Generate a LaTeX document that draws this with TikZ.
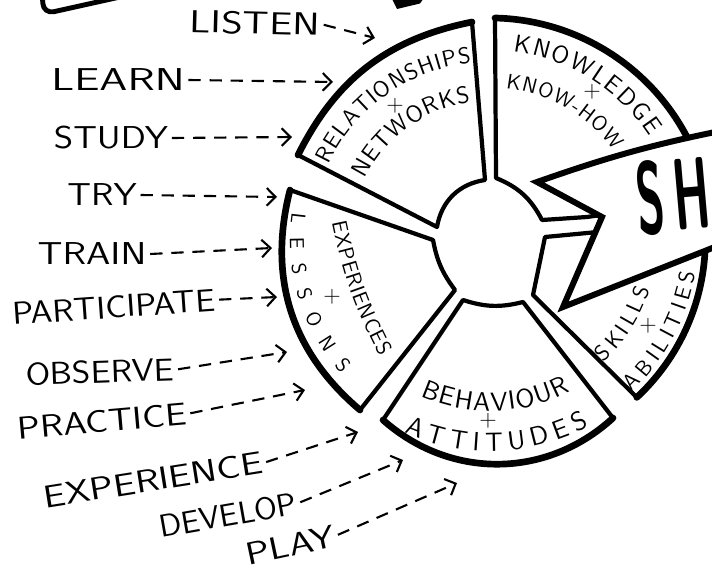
\documentclass[tikz,border=0pt]{standalone}
\usepackage{fontspec}
\usetikzlibrary{arrows.meta,decorations.text}

\tikzset{
  word/.style={font=\sffamily\fontsize{18}{18}\selectfont, inner sep=2pt},
  dasharrow/.style={line width=1.2pt, dash pattern=on 7pt off 5pt,
    -{Straight Barb[length=5pt,width=10pt,line width=1.2pt]}},
  sector/.style={line width=2.4pt, line join=round},
  rim/.style={line width=3.8pt, line cap=round},
  banner/.style={line width=3.4pt, fill=white},
  plussign/.style={font=\sffamily\fontsize{13}{13}\selectfont, inner sep=0pt},
  arctext/.style 2 args={decorate, decoration={text along path, text align=fit to path,
    text={|\sffamily\fontsize{#1}{#1}\selectfont|#2}}},
}

\begin{document}
\begin{tikzpicture}
	\useasboundingbox (0,0) rectangle (14.24,11.4);
	\clip (0,0) rectangle (14.24,11.4);

	% scraps of the drawing above
	\draw[line width=2.8pt, rounded corners=6pt] (0.84,11.6) -- (0.87,11.12) -- (2.4,11.46);
	\fill (7.80,11.5) -- (7.94,11.22) -- (8.40,11.33) -- (8.52,11.5) -- cycle;

	\coordinate (hub) at (9.8,6.6);

	% relationships
	\coordinate (r1) at (9.70,7.80);
	\coordinate (r2) at (9.44,10.96);
	\coordinate (r3) at (5.96,8.30);
	\coordinate (r4) at (8.74,6.86);
	\draw[sector] (r4) to[bend left=36] (r1) -- (r2) to[bend right=26] (r3) -- cycle;
	\draw[rim] (r2) to[bend right=26] (r3);

	% knowledge
	\coordinate (k1) at (9.92,7.84);
	\coordinate (k2) at (9.90,11.04);
	\coordinate (k5) at (10.84,7.00);
	\draw[sector] (k5) to[bend right=20] (k1) -- (k2) arc[start angle=88.7, end angle=22, radius=4.45] -- (12.7,7.2) -- (11.74,7.06) -- cycle;
	\draw[rim] (k2) arc[start angle=88.7, end angle=22, radius=4.45];

	% skills
	\coordinate (s1) at (10.90,6.66);
	\coordinate (s3) at (10.66,5.50);
	\draw[sector] (s3) -- (s1) -- (12.8,6.84) -- (14.09,6.98) arc[start angle=5, end angle=-47, radius=4.31] -- cycle;
	\draw[rim] (14.09,6.98) arc[start angle=5, end angle=-47, radius=4.31];

	% behaviour
	\coordinate (b1) at (9.26,5.40);
	\coordinate (b2) at (10.46,5.36);
	\coordinate (b3) at (12.26,3.04);
	\coordinate (b4) at (7.66,3.00);
	\draw[sector] (b1) to[bend right=16] (b2) -- (b3) to[bend left=42] (b4) -- cycle;
	\draw[rim] (b3) to[bend left=42] (b4);

	% experiences
	\coordinate (e1) at (5.80,7.60);
	\coordinate (e2) at (8.66,6.60);
	\coordinate (e3) at (9.10,5.60);
	\coordinate (e4) at (7.20,3.20);
	\draw[sector] (e4) to[bend left=32] (e1) -- (e2) to[bend right=13] (e3) -- cycle;
	\draw[rim] (e4) to[bend left=32] (e1);

	% banner
	\coordinate (tipT) at (10.74,7.76);
	\coordinate (notch) at (12.04,7.06);
	\coordinate (tipB) at (11.26,5.26);
	\draw[banner] (14.6,8.82) to[bend right=4] (tipT) -- (notch) -- (tipB) -- (14.6,6.58) -- cycle;
	\node[font=\sffamily\bfseries\fontsize{58}{58}\selectfont, rotate=5, anchor=west, inner sep=0pt] (sh) at (12.72,7.42) {\scalebox{0.45}[1]{S\kern0.2em H}};

	% sector texts
	\begin{scope}[shift={(hub)}]
		\path[arctext={13}{RELATIONSHIPS}] (155:3.56) arc[start angle=155, end angle=96, radius=3.56];
		\path[arctext={13.5}{NETWORKS}] (154:2.78) arc[start angle=154, end angle=98, radius=2.78];
		\path[arctext={14}{KNOWLEDGE}] (83:3.8) arc[start angle=83, end angle=33, radius=3.8];
		\path[arctext={12}{KNOW-HOW}] (84:3.05) arc[start angle=84, end angle=36, radius=3.05];
		\path[arctext={11.5}{LESSONS}] (172:4.0) arc[start angle=172, end angle=222, radius=4.0];
		\path[arctext={15}{BEHAVIOUR}] (-114:3.42) arc[start angle=-114, end angle=-62, radius=3.42];
		\path[arctext={15}{ATTITUDES}] (-114:4.22) arc[start angle=-114, end angle=-62, radius=4.22];
		\path[arctext={12.5}{SKILLS}] (-47:3.34) arc[start angle=-47, end angle=-17, radius=3.34];
		\path[arctext={12.5}{ABILITIES}] (-47:4.15) arc[start angle=-47, end angle=-9, radius=4.15];
	\end{scope}
	\path[arctext={12}{EXPERIENCES}] (6.64,6.95) to[bend right=8] (7.60,4.26);
	\node[plussign] (relplus) at (7.90,9.28) {+};
	\node[plussign] (knoplus) at (11.84,9.56) {+};
	\node[plussign] (expplus) at (6.64,5.46) {+};
	\node[plussign] (behplus) at (9.76,2.98) {+};
	\node[plussign] (skiplus) at (12.96,4.88) {+};

	% words on the left
	\node[word, rotate=-1.5] (listen) at (5.10,10.94) {\scalebox{1.3}[1]{LISTEN}};
	\node[word] (learn) at (2.36,9.80) {\scalebox{1.42}[1]{LEARN}};
	\node[word] (study) at (2.22,8.64) {\scalebox{1.17}[1]{STUDY}};
	\node[word] (try) at (2.04,7.50) {\scalebox{1.17}[1]{TRY}};
	\node[word] (train) at (1.84,6.32) {\scalebox{1.23}[1]{TRAIN}};
	\node[word, rotate=4] (participate) at (2.28,5.26) {\scalebox{1.11}[1]{PARTICIPATE}};
	\node[word, rotate=2] (observe) at (2.00,3.96) {\scalebox{1.12}[1]{OBSERVE}};
	\node[word, rotate=5] (practice) at (2.04,2.98) {\scalebox{1.2}[1]{PRACTICE}};
	\node[word, rotate=9] (experience) at (3.06,1.80) {\scalebox{1.25}[1]{EXPERIENCE}};
	\node[word, rotate=10] (develop) at (4.56,1.10) {\scalebox{1.04}[1]{DEVELOP}};
	\node[word, rotate=12] (play) at (5.80,0.50) {\scalebox{1.25}[1]{PLAY}};

	\coordinate (tolisten) at (7.50,10.64);
	\coordinate (tolearn) at (6.66,9.76);
	\coordinate (tostudy) at (5.84,8.66);
	\coordinate (totry) at (5.54,7.46);
	\coordinate (totrain) at (5.44,6.44);
	\coordinate (toparticipate) at (5.54,5.46);
	\coordinate (toobserve) at (5.74,4.36);
	\coordinate (topractice) at (6.10,3.60);
	\coordinate (toexperience) at (7.16,2.76);
	\coordinate (todevelop) at (8.06,2.20);
	\coordinate (toplay) at (9.14,1.74);

	\draw[dasharrow] (listen.east) -- (tolisten);
	\draw[dasharrow] (learn.east) -- (tolearn);
	\draw[dasharrow] (study.east) -- (tostudy);
	\draw[dasharrow] (try.east) -- (totry);
	\draw[dasharrow] (train.east) -- (totrain);
	\draw[dasharrow] (participate.east) -- (toparticipate);
	\draw[dasharrow] (observe.east) -- (toobserve);
	\draw[dasharrow] (practice.east) -- (topractice);
	\draw[dasharrow] (experience.east) -- (toexperience);
	\draw[dasharrow] (develop.east) -- (todevelop);
	\draw[dasharrow] (play.east) -- (toplay);
\end{tikzpicture}
\end{document}
